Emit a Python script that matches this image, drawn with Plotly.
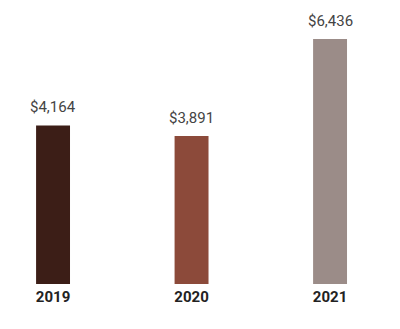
import plotly.graph_objects as go

years = ["2019", "2020", "2021"]
values = [4164, 3891, 6436]
labels = ["$4,164", "$3,891", "$6,436"]
colors = ["#3c1e17", "#8c4a3a", "#9b8c88"]

fig = go.Figure()
fig.add_trace(go.Bar(
    x=years, y=values, width=0.245,
    marker=dict(color=colors, line=dict(width=0)),
    hoverinfo="skip",
))
for i, (v, lab) in enumerate(zip(values, labels)):
    fig.add_annotation(x=i, y=v, xref="x", yref="y",
                       text=lab, showarrow=False,
                       yanchor="bottom", yshift=7,
                       font=dict(family="Roboto", size=15, color="#444444"))

fig.update_layout(
    width=400, height=329,
    margin=dict(l=0, r=0, t=20, b=45),
    paper_bgcolor="white", plot_bgcolor="white",
    showlegend=False,
    xaxis=dict(type="category", range=[-0.383, 2.505], showgrid=False,
               showline=False, zeroline=False, ticks="", ticklabelstandoff=2,
               tickfont=dict(family="Roboto", size=15, color="#222222", weight="bold")),
    yaxis=dict(range=[0, 6935], showgrid=False, zeroline=False,
               showticklabels=False, ticks="", showline=False),
)
fig.write_html("out.html")
